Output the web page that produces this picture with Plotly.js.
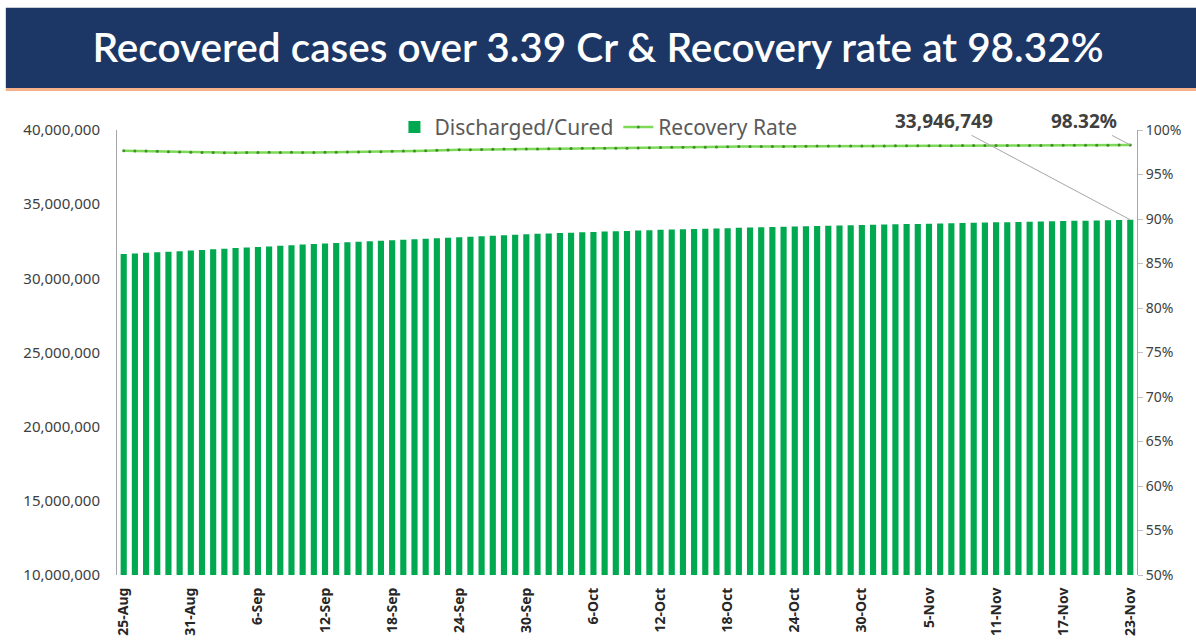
<!DOCTYPE html>
<html>
<head>
<meta charset="utf-8">
<script src="https://cdn.plot.ly/plotly-3.0.1.min.js"></script>
<style>
html,body{margin:0;padding:0;background:#fff;}
#chart{width:1196px;height:641px;}
</style>
</head>
<body>
<div id="chart"></div>
<script>
const dates = [
"25-Aug","26-Aug","27-Aug","28-Aug","29-Aug","30-Aug","31-Aug",
"1-Sep","2-Sep","3-Sep","4-Sep","5-Sep","6-Sep","7-Sep","8-Sep","9-Sep","10-Sep",
"11-Sep","12-Sep","13-Sep","14-Sep","15-Sep","16-Sep","17-Sep","18-Sep","19-Sep","20-Sep",
"21-Sep","22-Sep","23-Sep","24-Sep","25-Sep","26-Sep","27-Sep","28-Sep","29-Sep","30-Sep",
"1-Oct","2-Oct","3-Oct","4-Oct","5-Oct","6-Oct","7-Oct","8-Oct","9-Oct","10-Oct",
"11-Oct","12-Oct","13-Oct","14-Oct","15-Oct","16-Oct","17-Oct","18-Oct","19-Oct","20-Oct",
"21-Oct","22-Oct","23-Oct","24-Oct","25-Oct","26-Oct","27-Oct","28-Oct","29-Oct","30-Oct","31-Oct",
"1-Nov","2-Nov","3-Nov","4-Nov","5-Nov","6-Nov","7-Nov","8-Nov","9-Nov","10-Nov",
"11-Nov","12-Nov","13-Nov","14-Nov","15-Nov","16-Nov","17-Nov","18-Nov","19-Nov","20-Nov",
"21-Nov","22-Nov","23-Nov"];

const discharged = [
31636469,31676528,31717350,31756997,31792744,31833810,31874789,
31917310,31958870,31999400,32036900,32074120,32116080,32154370,32193880,32236830,32277020,
32315950,32353600,32388770,32425460,32465200,32502750,32537400,32573890,32609250,32642460,
32672010,32707500,32742580,32776700,32808940,32839140,32868220,32904000,32938530,32971800,
33000500,33024900,33048800,33075300,33102900,33127400,33150800,33175700,33198500,33221000,
33243500,33267000,33286700,33306700,33325600,33344600,33363900,33383600,33403900,33420900,
33439200,33458000,33477000,33495200,33511300,33526400,33543600,33560900,33576800,33593000,33608700,
33624100,33640600,33655800,33670100,33684200,33697800,33712400,33727700,33743100,33758900,
33773500,33787900,33802800,33817100,33831200,33844600,33859200,33873800,33888600,33903000,
33917800,33932500,33946749];

const recoveryRate = [
97.67,97.64,97.63,97.60,97.57,97.54,97.51,
97.48,97.46,97.45,97.45,97.46,97.48,97.49,97.48,97.49,97.48,
97.48,97.49,97.51,97.52,97.53,97.55,97.57,97.62,97.64,97.65,
97.68,97.73,97.75,97.77,97.78,97.81,97.83,97.86,97.85,97.86,
97.87,97.88,97.89,97.93,97.94,97.94,97.95,97.95,97.96,97.99,
98.00,98.04,98.05,98.06,98.07,98.07,98.08,98.12,98.14,98.15,
98.15,98.15,98.15,98.16,98.18,98.19,98.19,98.19,98.19,98.20,98.20,
98.20,98.22,98.23,98.23,98.23,98.24,98.24,98.25,98.26,98.25,
98.26,98.26,98.26,98.27,98.27,98.28,98.28,98.28,98.29,98.29,
98.30,98.31,98.32];

const tickLabels = ["25-Aug","31-Aug","6-Sep","12-Sep","18-Sep","24-Sep","30-Sep","6-Oct",
"12-Oct","18-Oct","24-Oct","30-Oct","5-Nov","11-Nov","17-Nov","23-Nov"];

const titleText = "Recovered cases over 3.39 Cr & Recovery rate at 98.32%";

const rateFrac = recoveryRate.map(v => v / 100);
const lastIdx = dates.length - 1;

const traces = [
  {
    type: "bar",
    name: "Discharged/Cured",
    x: dates,
    y: discharged,
    marker: {color: "#00a84f"},
    yaxis: "y",
    hoverinfo: "x+y"
  },
  {
    type: "scatter",
    mode: "lines+markers",
    name: "Recovery Rate",
    x: dates,
    y: rateFrac,
    yaxis: "y2",
    line: {color: "#7ed957", width: 2.5},
    marker: {color: "#3f8f2a", size: 3, symbol: "circle"}
  }
];

const layout = {
  width: 1196,
  height: 641,
  paper_bgcolor: "#ffffff",
  plot_bgcolor: "#ffffff",
  margin: {l: 117, r: 59, t: 130, b: 66, pad: 0},
  bargap: 0.45,
  showlegend: true,
  legend: {
    orientation: "h",
    x: 0.272, xanchor: "left",
    y: 1.052, yanchor: "top",
    font: {family: "Noto Sans, Open Sans, sans-serif", size: 21, color: "#5a5a5a"},
    bgcolor: "rgba(0,0,0,0)",
    itemwidth: 30,
    tracegroupgap: 0
  },
  title: {
    text: titleText,
    x: 0.5, xref: "container", xanchor: "center",
    y: 0.925, yref: "container", yanchor: "middle",
    font: {family: "Lato, Noto Sans, sans-serif", size: 40.5, color: "#ffffff", weight: 600}
  },
  xaxis: {
    type: "category",
    tickmode: "array",
    tickvals: tickLabels,
    ticktext: tickLabels,
    tickangle: -90,
    tickfont: {family: "Noto Sans, sans-serif", size: 14, color: "#262626", weight: "bold"},
    showgrid: false,
    showline: false,
    zeroline: false,
    ticks: "outside",
    ticklen: 6,
    tickcolor: "rgba(0,0,0,0)",
    range: [-0.6, lastIdx + 0.6]
  },
  yaxis: {
    range: [10000000, 40000000],
    dtick: 5000000,
    tickformat: ",d",
    showgrid: false,
    zeroline: false,
    showline: true,
    linecolor: "#a6a6a6",
    linewidth: 1,
    ticks: "",
    ticklabelstandoff: 13,
    tickfont: {family: "Noto Sans, sans-serif", size: 15, color: "#404040"}
  },
  yaxis2: {
    overlaying: "y",
    side: "right",
    range: [0.5, 1.0],
    dtick: 0.05,
    tickformat: ".0%",
    showgrid: false,
    zeroline: false,
    showline: true,
    linecolor: "#a6a6a6",
    linewidth: 1,
    ticks: "outside",
    ticklen: 5,
    tickcolor: "#bfbfbf",
    tickfont: {family: "Noto Sans, sans-serif", size: 14, color: "#404040"}
  },
  shapes: [
    {type: "rect", xref: "paper", yref: "paper", x0: -0.109, x1: 1.06, y0: 1.0944, y1: 1.275,
     fillcolor: "#1c3766", line: {width: 0}, layer: "below"},
    {type: "rect", xref: "paper", yref: "paper", x0: -0.109, x1: 1.06, y0: 1.0875, y1: 1.0944,
     fillcolor: "#f6b08a", line: {width: 0}, layer: "below"}
  ],
  annotations: [
    {
      x: dates[lastIdx], y: discharged[lastIdx], xref: "x", yref: "y",
      text: discharged[lastIdx].toLocaleString("en-US"),
      showarrow: true, arrowhead: 0, arrowwidth: 1, arrowcolor: "#a6a6a6",
      ax: -186, ay: -99, standoff: 0,
      font: {family: "Noto Sans, sans-serif", size: 19, color: "#404040", weight: "bold"}
    },
    {
      x: dates[lastIdx], y: rateFrac[lastIdx], xref: "x", yref: "y2",
      text: recoveryRate[lastIdx].toFixed(2) + "%",
      showarrow: true, arrowhead: 0, arrowwidth: 1, arrowcolor: "#a6a6a6",
      ax: -46, ay: -24, standoff: 0,
      font: {family: "Noto Sans, sans-serif", size: 19, color: "#404040", weight: "bold"}
    }
  ]
};

Plotly.newPlot("chart", traces, layout, {displayModeBar: false, staticPlot: true});
</script>
</body>
</html>
